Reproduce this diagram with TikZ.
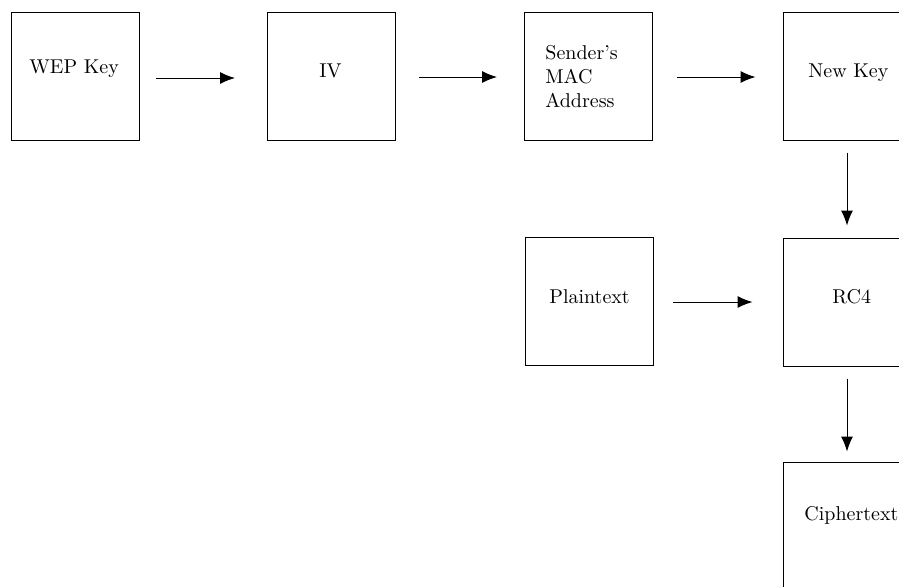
\documentclass[tikz,border=0pt]{standalone}
\usetikzlibrary{arrows.meta}
\begin{document}
\begin{tikzpicture}[x=0.5pt,y=-0.5pt,
  blockbox/.style={draw,line width=0.5pt,inner sep=0pt,minimum width=64pt,minimum height=64pt},
  lbl/.style={inner sep=0pt,anchor=base west,font=\normalsize},
  flow/.style={line width=0.5pt,-{Latex[length=7.5pt,width=6pt]}}]
\useasboundingbox (0,0) rectangle (899,586);
\clip (0,0) rectangle (899,586);

% blocks
\node[blockbox] (wep)    at (75,76)    {};
\node[blockbox] (iv)     at (331.5,76) {};
\node[blockbox] (mac)    at (588.5,76) {};
\node[blockbox] (newkey) at (847,76)   {};
\node[blockbox] (plain)  at (589.5,301){};
\node[blockbox] (rc4)    at (847,302)  {};
\node[blockbox] (cipher) at (847,526)  {};

% labels
\node[lbl] (wep-t)    at (29,73)  {WEP Key};
\node[lbl] (iv-t)     at (319,77) {IV};
\node[lbl] (mac-t1)   at (545,59) {Sender's};
\node[lbl] (mac-t2)   at (545,83) {MAC};
\node[lbl] (mac-t3)   at (545,107){Address};
\node[lbl] (newkey-t) at (808,77) {New Key};
\node[lbl] (plain-t)  at (549,303){Plaintext};
\node[lbl] (rc4-t)    at (832,303){RC4};
\node[lbl] (cipher-t) at (804,520){Ciphertext};

% connectors
\draw[flow,shorten <=8pt,shorten >=16pt]
  ([yshift=-1pt]wep.east) -- ([yshift=-1pt]iv.west);
\draw[flow,shorten <=11.5pt,shorten >=13.5pt]
  ([yshift=-0.5pt]iv.east) -- ([yshift=-0.5pt]mac.west);
\draw[flow,shorten <=12pt,shorten >=13.5pt]
  ([yshift=-0.5pt]mac.east) -- ([yshift=-0.5pt]newkey.west);
\draw[flow,shorten <=9.5pt,shorten >=15pt]
  ([yshift=-0.5pt]plain.east) -- (rc4.west);
\draw[flow,shorten <=6pt,shorten >=6pt]
  (newkey.south) -- (rc4.north);
\draw[flow,shorten <=6pt,shorten >=5pt]
  (rc4.south) -- (cipher.north);
\end{tikzpicture}
\end{document}
